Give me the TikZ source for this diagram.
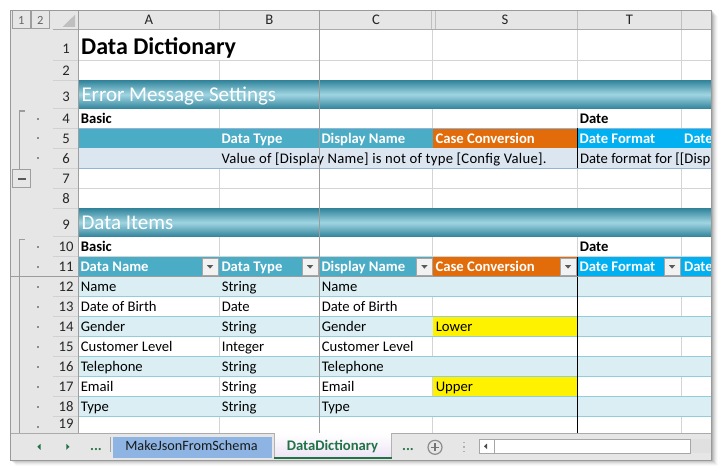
\documentclass[tikz,border=0pt]{standalone}
\usepackage{fontspec}
\setmainfont{Carlito}
\definecolor{hdrgray}{HTML}{E6E6E6}
\definecolor{gridc}{HTML}{D4D4D4}
\definecolor{frz}{HTML}{9C9C9C}
\definecolor{tealh}{HTML}{4BACC6}
\definecolor{orng}{HTML}{E26B0A}
\definecolor{skyb}{HTML}{00B0F0}
\definecolor{band}{HTML}{DAEEF3}
\definecolor{bandline}{HTML}{92CDDC}
\definecolor{msgfill}{HTML}{DCE6F1}
\definecolor{msgline}{HTML}{95B3D7}
\definecolor{bandark}{HTML}{31849B}
\definecolor{banlight}{HTML}{A0D5E2}
\definecolor{xlgreen}{HTML}{217346}
\definecolor{tabblue}{HTML}{8DB4E2}
\definecolor{lavend}{HTML}{EEE4F6}
\newcommand\xlfont{\fontsize{14.67}{17}\selectfont}
\begin{document}
\begin{tikzpicture}[x=1pt,y=-1pt,
  tt/.style={anchor=base west, inner sep=0pt, outer sep=0pt},
  cell/.style={tt, font=\xlfont},
  bcell/.style={tt, font=\xlfont\bfseries},
  hcell/.style={tt, font=\xlfont\bfseries, text=white},
  banner/.style={tt, font=\fontsize{21}{24}\selectfont, text=white},
  rownum/.style={anchor=base, inner sep=0pt, font=\xlfont, text=black!85},
  grid/.style={draw=gridc, line width=0.8pt},
  ddbox/.style={draw=black!35, fill=white!95!black, line width=0.8pt},
  obr/.style={draw=frz, line width=1.6pt},
  obtn/.style={draw=black!38, line width=0.8pt},
  bline/.style={draw=bandline, line width=0.9pt}]
\useasboundingbox (0,0) rectangle (722,472);
\fill[white] (0,0) rectangle (722,472);
% window shadow
\foreach \i/\o in {1/0.10,2/0.08,3/0.06,4/0.045,5/0.03,6/0.02}
  \fill[black,opacity=\o] (10+\i,10+\i) rectangle (711.7+\i,460+\i);
\fill[white] (10,10) rectangle (711.7,460);
% ---------------- sheet area ----------------
\begin{scope}
\clip (78.3,29.3) rectangle (711.7,433.3);
\foreach \yy in {60.7,80.3,108.7,128.3,148.3,168.3,188.3,208.3,236.7,256.7,276.7,296.7,316.7,336.7,356.7,376.7,396.7,416.7}
  \draw[grid] (78.3,\yy) -- (711.7,\yy);
\draw[grid] (219.3,60.7) -- (219.3,433.3);
\foreach \xx in {432.7,577.3,681.7}
  \draw[grid] (\xx,29.3) -- (\xx,433.3);
% banners
\shade[top color=bandark, bottom color=bandark, middle color=banlight] (78.3,80.3) rectangle (711.7,108.7);
\shade[top color=bandark, bottom color=bandark, middle color=banlight] (78.3,208.3) rectangle (711.7,236.7);
% error message header rows
\fill[tealh] (78.3,128.3) rectangle (432.7,148.3);
\fill[orng] (432.7,128.3) rectangle (577.3,148.3);
\fill[skyb] (577.3,128.3) rectangle (711.7,148.3);
\fill[msgfill] (78.3,148.3) rectangle (711.7,168.3);
\draw[msgline, line width=0.9pt] (78.3,128.3) -- (711.7,128.3);
\draw[msgline, line width=0.9pt] (78.3,168.3) -- (711.7,168.3);
% data items table
\fill[tealh] (78.3,256.7) rectangle (432.7,276.7);
\fill[orng] (432.7,256.7) rectangle (577.3,276.7);
\fill[skyb] (577.3,256.7) rectangle (711.7,276.7);
\foreach \yt in {276.7,316.7,356.7,396.7}
  \fill[band] (78.3,\yt) rectangle (711.7,\yt+20);
\fill[yellow] (432.7,316.7) rectangle (577.3,336.7);
\fill[yellow] (432.7,376.7) rectangle (577.3,396.7);
\foreach \yy in {296.7,316.7,336.7,356.7,376.7,396.7,416.7}
  \draw[bline] (78.3,\yy) -- (711.7,\yy);
% black separators
\draw[black, line width=1.1pt] (577.3,128.3) -- (577.3,168.3);
\draw[black, line width=1.1pt] (577.3,256.7) -- (577.3,433.3);
% dropdown buttons
\foreach \bx in {202.3,302.3,416.7,560.3,664.3}{
  \draw[ddbox] (\bx,258.7) rectangle (\bx+16,275.3);
  \fill[black!65] (\bx+4.5,265) -- (\bx+11,265) -- (\bx+7.75,268.6) -- cycle;
}
% texts
\node[tt, font=\fontsize{24}{28}\selectfont\bfseries] (title) at (81.2,54) {Data Dictionary};
\node[banner] (ems) at (81.5,101.7) {Error Message Settings};
\node[banner] (ditems) at (81.5,229.3) {Data Items};
\node[bcell] (basicA) at (80.8,123.3) {Basic};
\node[bcell] (dateA) at (579.8,123.3) {Date};
\node[hcell] (h5b) at (221.5,143.3) {Data Type};
\node[hcell] (h5c) at (321.5,143.3) {Display Name};
\node[hcell] (h5s) at (435.5,143.3) {Case Conversion};
\node[hcell] (h5t) at (579.5,143.3) {Date Format};
\node[hcell] (h5u) at (684,143.3) {Date};
\node[tt, font=\xlfont\addfontfeature{LetterSpace=1.8}] (msg6) at (221.5,163.3) {Value of [Display Name] is not of type [Config Value].};
\node[cell] (msg6t) at (580,163.3) {Date format for [[Disp};
\node[bcell] (basicB) at (80.8,251.7) {Basic};
\node[bcell] (dateB) at (579.8,251.7) {Date};
\node[hcell] (h11a) at (80.5,271.7) {Data Name};
\node[hcell] (h11b) at (221.5,271.7) {Data Type};
\node[hcell] (h11c) at (321.5,271.7) {Display Name};
\node[hcell] (h11s) at (435.5,271.7) {Case Conversion};
\node[hcell] (h11t) at (579.5,271.7) {Date Format};
\node[hcell] (h11u) at (684,271.7) {Date};
\foreach \r/\yy/\ta/\tb/\tc in {12/291.7/Name/String/Name,
  13/311.7/Date of Birth/Date/Date of Birth,
  14/331.7/Gender/String/Gender,
  15/351.7/Customer Level/Integer/Customer Level,
  16/371.7/Telephone/String/Telephone,
  17/391.7/Email/String/Email,
  18/411.7/Type/String/Type}{
  \node[cell] (a\r) at (80.8,\yy) {\ta};
  \node[cell] (b\r) at (221.8,\yy) {\tb};
  \node[cell] (c\r) at (321.8,\yy) {\tc};
}
\node[cell] (s14) at (435.8,331.7) {Lower};
\node[cell] (s17) at (435.8,391.7) {Upper};
\end{scope}
% ---------------- headers ----------------
\fill[hdrgray] (10,10) rectangle (711.7,29.3);
\fill[hdrgray] (10,29.3) rectangle (78.3,433.3);
\foreach \xx in {219.3,431.7,435,577.3,681.7}
  \draw[draw=black!25, line width=0.8pt] (\xx,10) -- (\xx,29.3);
\draw[draw=black!33, line width=0.9pt] (53.3,29.3) -- (711.7,29.3);
\foreach \yy in {60.7,80.3,108.7,128.3,148.3,168.3,188.3,208.3,236.7,256.7,276.7,296.7,316.7,336.7,356.7,376.7,396.7,416.7}
  \draw[draw=black!18, line width=0.8pt] (53.3,\yy) -- (78.3,\yy);
\draw[draw=black!38, line width=0.9pt] (78.3,10) -- (78.3,433.3);
\fill[black!25] (75,14.8) -- (75,26.8) -- (62.8,26.8) -- cycle;
\foreach \cl/\cx in {A/148.8,B/269.3,C/376,S/505,T/629.5}
  \node[rownum] (col\cl) at (\cx,24.5) {\cl};
\foreach \n/\yy in {1/53.5,2/75.5,3/101.7,4/123.3,5/143.3,6/163.3,7/183.3,8/203.3,9/229.3,10/251.7,11/271.7,12/291.7,13/311.7,14/331.7,15/351.7,16/371.7,17/391.7,18/411.7,19/428.3}
  \node[rownum] (rn\n) at (66,\yy) {\n};
% freeze lines
\draw[frz, line width=1pt] (319.3,10) -- (319.3,433.3);
\draw[frz, line width=1pt] (10,276.7) -- (711.7,276.7);
% outline controls
\draw[obtn] (12.3,10.7) rectangle (30.3,28.7);
\draw[obtn] (31.2,10.7) rectangle (49.2,28.7);
\node[anchor=base, inner sep=0pt, font=\fontsize{12.5}{14}\selectfont, text=black!60] (lv1) at (21.3,24) {1};
\node[anchor=base, inner sep=0pt, font=\fontsize{12.5}{14}\selectfont, text=black!60] (lv2) at (40.2,24) {2};
\draw[obr] (24.5,111) -- (19.3,111) -- (19.3,169.3);
\draw[obtn, fill=hdrgray] (12.3,169.3) rectangle (30.3,187.7);
\draw[black!65, line width=2pt] (18.3,178.5) -- (26,178.5);
\draw[obr] (24.5,239.3) -- (19.3,239.3) -- (19.3,433.3);
\foreach \yy in {118.5,138.3,158.3,246.7,266.7,286.7,306.7,326.7,346.7,366.7,386.7,406.7,426.7}
  \fill[black!45] (37,\yy-1) rectangle (39,\yy+1);
% ---------------- tab bar ----------------
\fill[hdrgray] (10,433.3) rectangle (711.7,460);
\draw[black!33, line width=0.9pt] (10,433.3) -- (711.7,433.3);
\fill[xlgreen] (37.3,446.8) -- (40.5,443.8) -- (40.5,449.8) -- cycle;
\fill[xlgreen] (69.5,446.8) -- (66.3,443.8) -- (66.3,449.8) -- cycle;
\node[anchor=base, inner sep=0pt, font=\xlfont\bfseries, text=xlgreen] (dotsL) at (96,450.5) {...};
\draw[black!35, line width=0.8pt] (110,437.3) -- (110,451.7);
\fill[tabblue] (113.3,436.7) rectangle (271.7,458);
\node[anchor=base, inner sep=0pt, font=\fontsize{14.2}{17}\selectfont, text=black!90] (tab1) at (191.5,450.8) {MakeJsonFromSchema};
\shade[top color=white, bottom color=lavend] (274,433.3) rectangle (391.7,457);
\draw[black!30, line width=0.8pt] (274,433.3) -- (274,457);
\draw[black!30, line width=0.8pt] (391.7,433.3) -- (391.7,457);
\draw[xlgreen, line width=2pt] (274,457.5) -- (391.7,457.5);
\node[anchor=base, inner sep=0pt, font=\xlfont\bfseries, text=xlgreen] (tab2) at (332.5,450.8) {DataDictionary};
\node[anchor=base, inner sep=0pt, font=\xlfont\bfseries, text=xlgreen] (dotsR) at (408,450.5) {...};
\draw[black!45, line width=1.2pt] (435,447.3) circle (7);
\draw[black!55, line width=1.4pt] (431,447.3) -- (439,447.3) (435,443.3) -- (435,451.3);
\foreach \yy in {442.5,447,451.5}
  \fill[black!30] (463.3,\yy-0.8) rectangle (464.9,\yy+0.8);
\fill[black!12] (690,439.3) rectangle (711.7,453.3);
\draw[black!35, fill=white, line width=0.8pt] (479.3,439.3) rectangle (690,453.3);
\draw[black!35, line width=0.8pt] (494,439.3) -- (494,453.3);
\fill[black!70] (484,446.3) -- (487,443.5) -- (487,449.1) -- cycle;
% window border
\draw[black!40, line width=0.6pt] (10,10) rectangle (711.7,460);
\end{tikzpicture}
\end{document}
